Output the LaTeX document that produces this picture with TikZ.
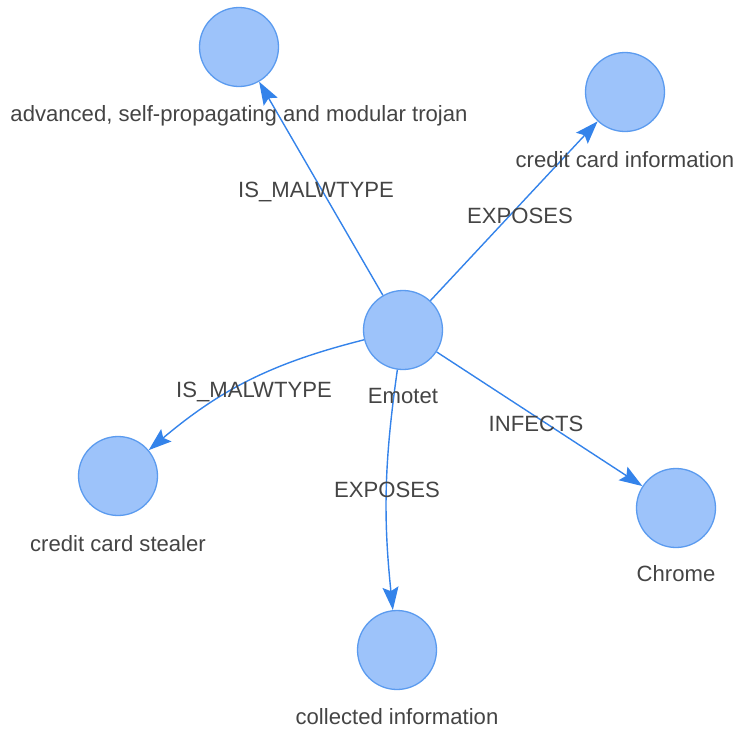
\documentclass[tikz,border=0pt]{standalone}
\usepackage{fontspec}
\setmainfont{Liberation Sans}
\usetikzlibrary{arrows.meta}
\definecolor{nodefill}{HTML}{9DC3FA}
\definecolor{nodeline}{HTML}{5B9BEF}
\definecolor{edgeblue}{HTML}{3483EA}
\definecolor{labelgrey}{HTML}{444444}
\begin{document}
\begin{tikzpicture}[x=1pt,y=-1pt,
  entity/.style={circle, draw=nodeline, fill=nodefill, line width=1.3pt,
    minimum size=79pt, inner sep=0pt},
  caption/.style={text=labelgrey, font=\fontsize{22.1}{26}\selectfont,
    anchor=base, inner sep=0pt},
  rel/.style={color=edgeblue, line width=1.4pt,
    -{Stealth[length=23pt,width=16pt,inset=4pt]}}]
\useasboundingbox (0,0) rectangle (742,732);

% entities
\node[entity] (emotet)    at (403,330) {};
\node[entity] (trojan)    at (239,47)  {};
\node[entity] (ccinfo)    at (625,92)  {};
\node[entity] (stealer)   at (118,476) {};
\node[entity] (collected) at (397,650) {};
\node[entity] (chrome)    at (676,508) {};

% relations
\draw[rel] (emotet) -- (trojan);
\draw[rel] (emotet) -- (ccinfo);
\draw[rel] (emotet) to[bend right=13] (stealer);
\draw[rel] (emotet) to[bend right=7] (collected);
\draw[rel] (emotet) -- (chrome);

% relation labels
\node[caption] (l-type1)   at (316,197) {IS\_MALWTYPE};
\node[caption] (l-exp1)    at (520,223) {EXPOSES};
\node[caption] (l-type2)   at (254,397) {IS\_MALWTYPE};
\node[caption] (l-exp2)    at (387,497) {EXPOSES};
\node[caption] (l-infects) at (536,431) {INFECTS};

% entity names
\node[caption] (n-emotet)    at (403,403) {Emotet};
\node[caption] (n-trojan)    at (239,121) {advanced, self-propagating and modular trojan};
\node[caption] (n-ccinfo)    at (625,167) {credit card information};
\node[caption] (n-stealer)   at (118,551) {credit card stealer};
\node[caption] (n-collected) at (397,724) {collected information};
\node[caption] (n-chrome)    at (676,581) {Chrome};
\end{tikzpicture}
\end{document}
